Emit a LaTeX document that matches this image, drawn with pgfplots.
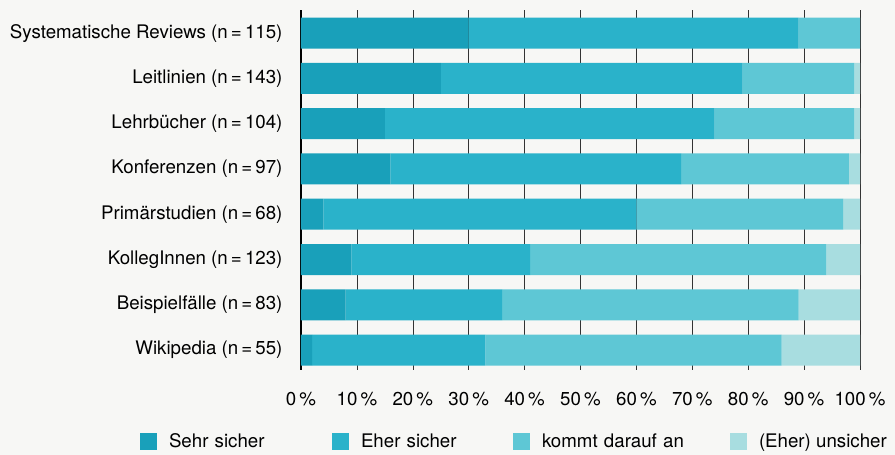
\documentclass[border=0pt]{standalone}
\usepackage{pgfplots}
\pgfplotsset{compat=1.18}
\usepackage{fontspec}
\setmainfont{TeX Gyre Heros}
\definecolor{cA}{RGB}{25,160,186}
\definecolor{cB}{RGB}{42,178,202}
\definecolor{cC}{RGB}{94,199,213}
\definecolor{cD}{RGB}{168,221,224}
\definecolor{bg}{RGB}{247,247,245}
\newcommand{\fs}{\fontsize{18.7}{22}\selectfont}
\begin{document}
\begin{tikzpicture}
\useasboundingbox (0,0) rectangle (895pt,455pt);
\fill[bg] (0,0) rectangle (895pt,455pt);
\begin{axis}[
  at={(301pt,85pt)}, anchor=south west,
  scale only axis, width=559pt, height=360pt,
  xbar stacked, bar width=31pt,
  xmin=0, xmax=100, ymin=-0.44, ymax=7.51,
  axis line style={draw=none},
  xtick={0,10,...,100},
  xticklabels={0\,\%,10\,\%,20\,\%,30\,\%,40\,\%,50\,\%,60\,\%,70\,\%,80\,\%,90\,\%,100\,\%},
  ytick={0,...,7},
  yticklabels={Wikipedia (n\,=\,55),Beispielfälle (n\,=\,83),KollegInnen (n\,=\,123),Primärstudien (n\,=\,68),Konferenzen (n\,=\,97),Lehrbücher (n\,=\,104),Leitlinien (n\,=\,143),Systematische Reviews (n\,=\,115)},
  major tick length=0pt,
  xmajorgrids, grid style={black!80, line width=0.6pt},
  extra x ticks={0}, extra x tick labels={},
  extra x tick style={grid style={black, line width=1.3pt}},
  tick label style={font=\fs},
  xticklabel style={anchor=base, yshift=-36pt},
  yticklabel style={xshift=-15pt},
  legend columns=4,
  legend style={draw=none, fill=none, font=\fs, inner sep=0pt, outer sep=0pt,
    at={(rel axis cs:-0.288,-0.199)}, anchor=west,
    nodes={inner sep=0pt},
    /tikz/every odd column/.style={column sep=12pt}},
  legend image code/.code={\fill[#1] (0pt,-8.5pt) rectangle (17pt,8.5pt);},
]
\addplot[fill=cA, draw=none] coordinates {(30,7) (25,6) (15,5) (16,4) (4,3) (9,2) (8,1) (2,0)};
\addlegendentry[text width=163pt, align=left]{Sehr sicher}
\addplot[fill=cB, draw=none] coordinates {(59,7) (54,6) (59,5) (52,4) (56,3) (32,2) (28,1) (31,0)};
\addlegendentry[text width=152pt, align=left]{Eher sicher}
\addplot[fill=cC, draw=none] coordinates {(11,7) (20,6) (25,5) (30,4) (37,3) (53,2) (53,1) (53,0)};
\addlegendentry[text width=188pt, align=left]{kommt darauf an}
\addplot[fill=cD, draw=none] coordinates {(0,7) (1,6) (1,5) (2,4) (3,3) (6,2) (11,1) (14,0)};
\addlegendentry{(Eher) unsicher}
\end{axis}
\end{tikzpicture}
\end{document}
